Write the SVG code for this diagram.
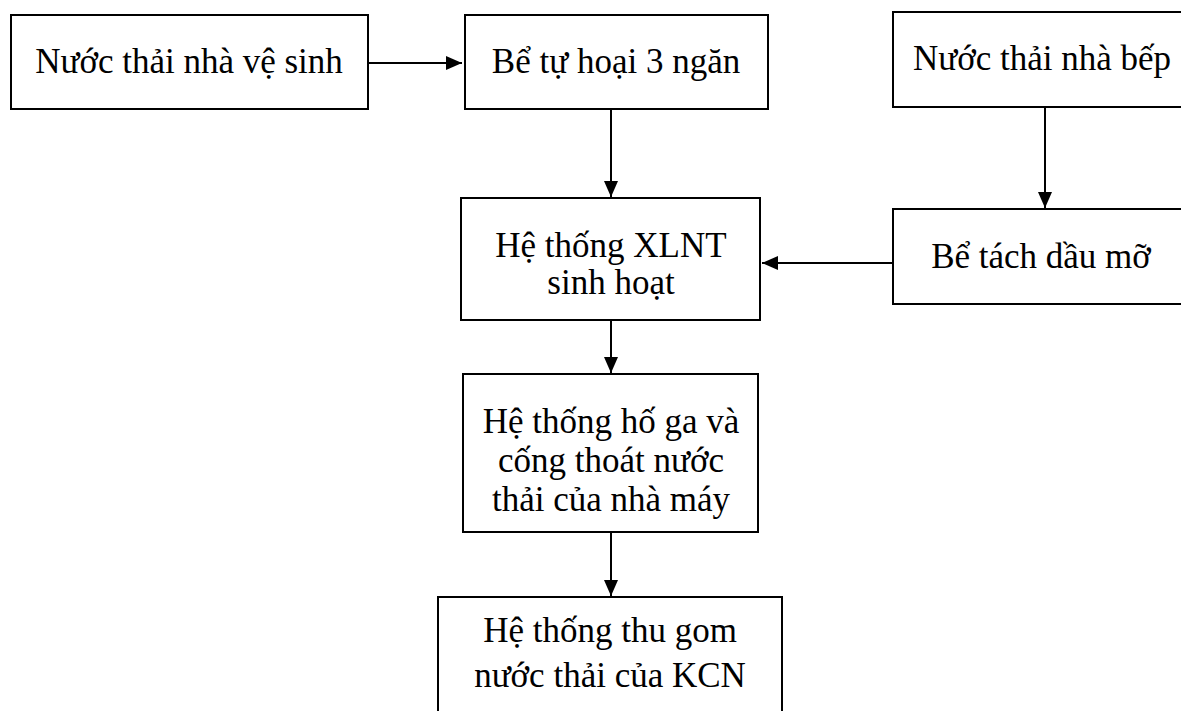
<svg xmlns="http://www.w3.org/2000/svg" width="1181" height="711" viewBox="0 0 1181 711">
<style>
.box{fill:#fff;stroke:#000;stroke-width:2}
.t{font-family:"Liberation Serif","Times New Roman",serif;font-size:35px;fill:#000;text-anchor:middle}
.c{stroke:#000;stroke-width:2;fill:none;marker-end:url(#ah)}
</style>
<defs>
<marker id="ah" viewBox="0 0 16 14" refX="16" refY="7" markerWidth="16" markerHeight="14" markerUnits="userSpaceOnUse" orient="auto">
<path d="M0,0 L16,7 L0,14 Z" fill="#000"/>
</marker>
</defs>
<rect width="1181" height="711" fill="#fff"/>
<g id="connectors">
<line class="c" x1="368" y1="63" x2="462" y2="63"/>
<line class="c" x1="611" y1="109" x2="611" y2="197"/>
<line class="c" x1="1045" y1="107" x2="1045" y2="208"/>
<line class="c" x1="893" y1="263" x2="762" y2="263"/>
<line class="c" x1="611" y1="320" x2="611" y2="373"/>
<line class="c" x1="611" y1="532" x2="611" y2="596"/>
</g>
<g id="n1"><rect class="box" x="11" y="15" width="357" height="94"/><text class="t" x="189" y="73">Nước thải nhà vệ sinh</text></g>
<g id="n2"><rect class="box" x="465" y="15" width="303" height="94"/><text class="t" x="616" y="73">Bể tự hoại 3 ngăn</text></g>
<g id="n3"><rect class="box" x="893" y="12" width="300" height="95"/><text class="t" x="1042" y="70">Nước thải nhà bếp</text></g>
<g id="n4"><rect class="box" x="461" y="198" width="299" height="122"/><text class="t" x="611" y="257">Hệ thống XLNT</text><text class="t" x="611" y="294">sinh hoạt</text></g>
<g id="n5"><rect class="box" x="893" y="209" width="300" height="95"/><text class="t" x="1041" y="268">Bể tách dầu mỡ</text></g>
<g id="n6"><rect class="box" x="463" y="374" width="295" height="158"/><text class="t" x="611" y="433">Hệ thống hố ga và</text><text class="t" x="611" y="472">cống thoát nước</text><text class="t" x="611" y="511">thải của nhà máy</text></g>
<g id="n7"><rect class="box" x="438" y="597" width="344" height="130"/><text class="t" x="610" y="642">Hệ thống thu gom</text><text class="t" x="610" y="687">nước thải của KCN</text></g>
</svg>
